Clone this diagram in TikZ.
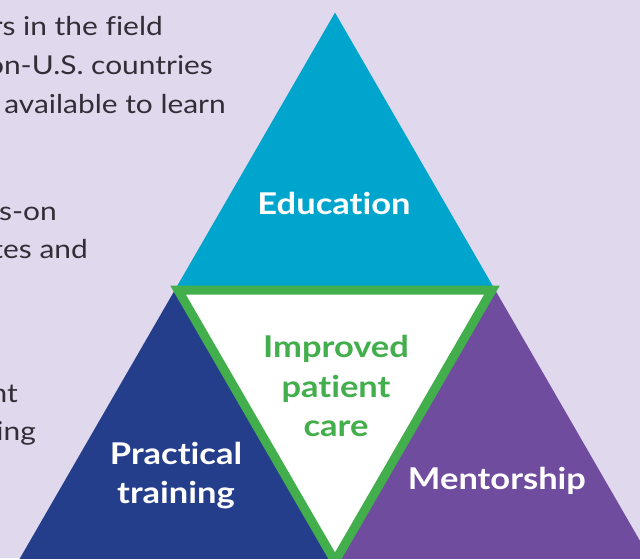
\documentclass[tikz,border=0pt]{standalone}
\usepackage{fontspec}
\setmainfont[FakeStretch = 1.15, Ligatures = NoCommon]{Lato}
\usepackage{tikz}
\usetikzlibrary{calc}

\definecolor{lavender}{RGB}{224,216,236}
\definecolor{educyan}{RGB}{0,165,206}
\definecolor{pracblue}{RGB}{37,62,140}
\definecolor{mentpurple}{RGB}{112,76,158}
\definecolor{caregreen}{RGB}{66,174,76}
\definecolor{bodygray}{RGB}{50,45,55}

\tikzset{
    bodytext/.style = {text = bodygray, inner sep = 0pt, font = \fontsize{26}{40}\selectfont},
    label/.style = {text = white, inner sep = 0pt, align = center, font = \fontsize{30}{39.5}\selectfont\bfseries}
}

\begin{document}
\begin{tikzpicture}[x = 1pt, y = -1pt]
                    \fill[lavender] (0, 0) rectangle (640, 558);
                    \useasboundingbox (0, 0) rectangle (640, 558);
                    \clip (0, 0) rectangle (640, 558);
                    
                    \coordinate (top) at (335, 12.6);
                    \coordinate (left) at (176, 288);
                    \coordinate (right) at (494, 288);
                    \coordinate (bottom) at (335, 563.4);
                    \coordinate (far_left) at (17, 563.4);
                    \coordinate (far_right) at (653, 563.4);
                    
                    % text at the left, cut by the edge
                    \node[bodytext, anchor = base east] (line_a) at (163, 35) {rs in the field};
                    \node[bodytext, anchor = base east] (line_b) at (213, 74) {on-U.S. countries};
                    \node[bodytext, anchor = base east] (line_c) at (226, 113) {available to learn};
                    \node[bodytext, anchor = base east] (line_d) at (57, 220) {ds-on};
                    \node[bodytext, anchor = base east] (line_e) at (88, 258) {tes and};
                    \node[bodytext, anchor = base east] (line_f) at (18, 402) {nt};
                    \node[bodytext, anchor = base east] (line_g) at (36, 440) {ing};
                    
                    \fill[educyan] (top) -- (left) -- (right) -- cycle;
                    \fill[pracblue] (left) -- (far_left) -- (bottom) -- cycle;
                    \fill[mentpurple] (right) -- (bottom) -- (far_right) -- cycle;
                    
                    \draw[caregreen, fill = white, line width = 9pt, line join = miter]
                        ($(left) + (2, 2)$) -- ($(right) + (-2, 2)$) -- ($(bottom) + (0, -2)$) -- cycle;
                    
                    \node[label, anchor = base] (education) at (334, 214) {Education};
                    \node[label, text = caregreen] (care) at (336, 386) {Improved\\patient\\care};
                    \node[label] (practical) at (176, 475.5) {Practical\\training};
                    \node[label, anchor = base] (mentorship) at (497, 489) {Mentorship};
                \end{tikzpicture}
\end{document}
